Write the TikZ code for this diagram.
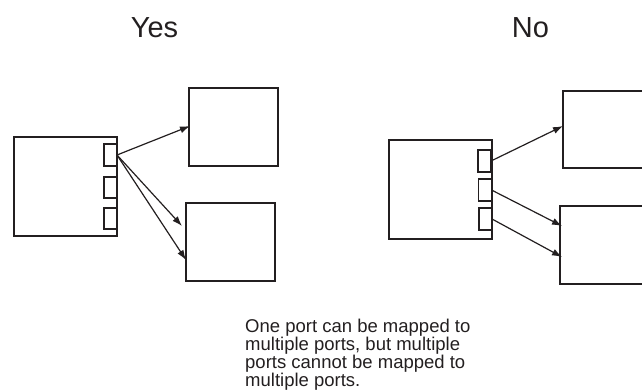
\documentclass[tikz,border=0pt]{standalone}
\usepackage{fontspec}
\setmainfont{Liberation Sans}
\usetikzlibrary{arrows.meta}
\definecolor{ink}{HTML}{231F20}
\begin{document}
\begin{tikzpicture}[x=1pt,y=-1pt,
  box/.style={draw=ink,line width=1.4pt,inner sep=0pt,outer sep=0pt},
  portbox/.style={draw=ink,line width=1.4pt,inner sep=0pt,outer sep=0pt,minimum width=13pt},
  link/.style={draw=ink,line width=1.2pt,-{Latex[length=10pt,width=7pt]}},
  title/.style={font=\fontsize{29}{34}\selectfont,text=ink,anchor=base,inner sep=0pt},
  note/.style={font=\fontsize{18.5}{18}\selectfont,text=ink,align=left,anchor=north west,inner sep=0pt}]
\useasboundingbox (0,0) rectangle (642,391);
\clip (0,0) rectangle (642,391);
% titles
\node[title] (yes) at (154.5,37) {Yes};
\node[title] (no) at (530.5,37) {No};
% left (Yes)
\node[box,minimum width=103pt,minimum height=99pt] (L) at (65.5,186.5) {};
\node[portbox,minimum height=22pt] (P1) at (110.5,155) {};
\node[portbox,minimum height=21pt] (P2) at (110.5,187.5) {};
\node[portbox,minimum height=21pt] (P3) at (110.5,218.5) {};
\node[box,minimum width=89pt,minimum height=78pt] (LT) at (233.5,127) {};
\node[box,minimum width=89pt,minimum height=78pt] (LB) at (230.5,242) {};
\coordinate (la) at (190,126);
\coordinate (lb) at (182,226);
\coordinate (lc) at (186,260);
\draw[link] (P1.east) -- (la);
\draw[link] (P1.east) -- (lb);
\draw[link] (P1.east) -- (lc);
% right (No)
\node[box,minimum width=103pt,minimum height=99pt] (R) at (440.5,189.5) {};
\node[portbox,minimum height=22pt] (Q1) at (484.5,161) {};
\node[portbox,minimum height=22pt] (Q2) at (485,190) {};
\node[portbox,minimum height=22pt] (Q3) at (485.5,219) {};
\node[box,minimum width=89pt,minimum height=77pt] (RT) at (607.5,129.5) {};
\node[box,minimum width=89pt,minimum height=78pt] (RB) at (604.5,245) {};
\coordinate (ra) at (563,126);
\coordinate (rb) at (562,226);
\coordinate (rc) at (562,257);
\draw[link] (Q1.east) -- (ra);
\draw[link] (Q2.east) -- (rb);
\draw[link] (Q3.east) -- (rc);
% note
\node[note] (txt) at (245,319) {One port can be mapped to\\multiple ports, but multiple\\ports cannot be mapped to\\multiple ports.};
\end{tikzpicture}
\end{document}
